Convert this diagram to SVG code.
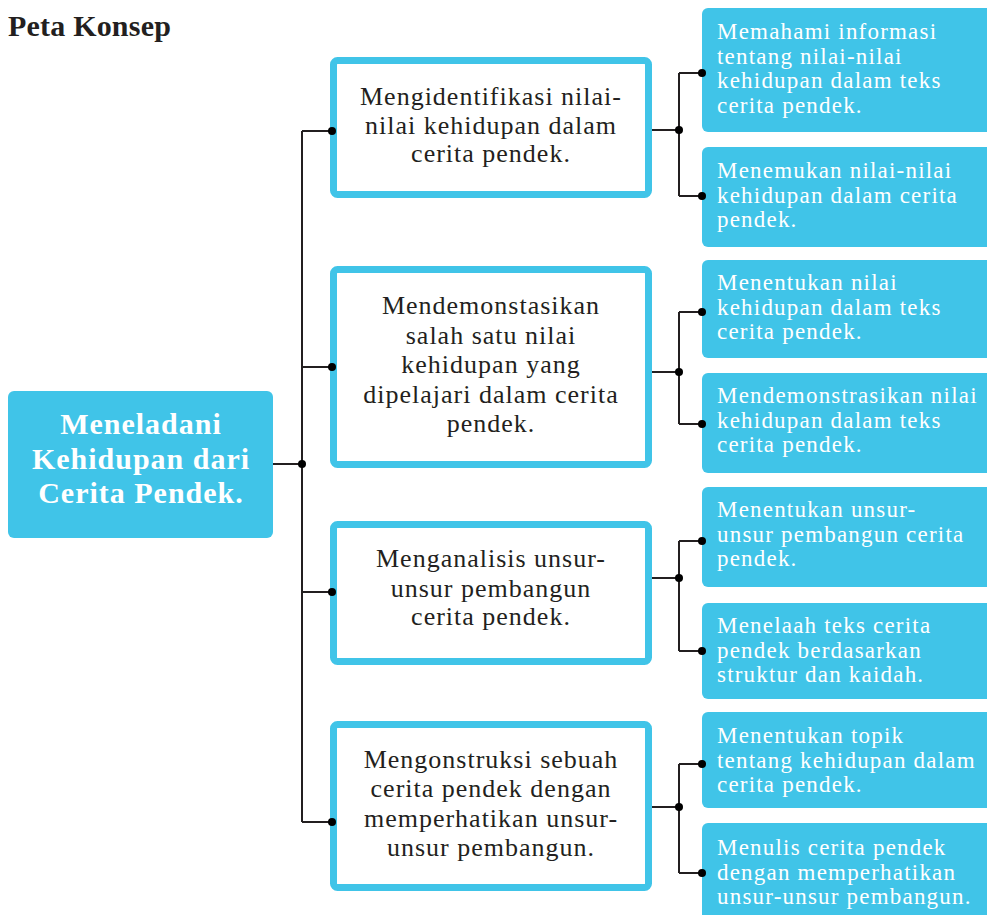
<svg xmlns="http://www.w3.org/2000/svg" width="987" height="915" viewBox="0 0 987 915">
<style>
.title{font-family:"Liberation Serif","Times New Roman",serif;font-weight:bold;font-size:30px;fill:#231F20;letter-spacing:0.2px}
.main{fill:#40C4E8}
.maintxt{font-family:"Liberation Serif","Times New Roman",serif;font-weight:bold;font-size:30px;fill:#FFFFFF;letter-spacing:1px;text-anchor:middle}
.mid{fill:#FFFFFF;stroke:#40C4E8;stroke-width:7}
.midtxt{font-family:"Liberation Serif","Times New Roman",serif;font-size:26px;fill:#231F20;letter-spacing:1px;text-anchor:middle}
.leaf{fill:#40C4E8}
.leaftxt{font-family:"Liberation Serif","Times New Roman",serif;font-size:23px;fill:#FFFFFF;letter-spacing:1.2px}
.ln{fill:none;stroke:#231F20;stroke-width:2}
.dot{fill:#000000}
</style>
<rect width="987" height="915" fill="#FFFFFF"/>
<text class="title" x="8" y="36">Peta Konsep</text>

<g id="root">
<rect class="main" x="8" y="391" width="265" height="147" rx="6"/>
<text class="maintxt" x="141" y="434">Meneladani</text>
<text class="maintxt" x="141" y="469">Kehidupan dari</text>
<text class="maintxt" x="141" y="503">Cerita Pendek.</text>
</g>

<g id="mid1">
<rect class="mid" x="333.5" y="60.5" width="315" height="134" rx="4"/>
<text class="midtxt" x="491" y="105">Mengidentifikasi nilai-</text>
<text class="midtxt" x="491" y="133.5">nilai kehidupan dalam</text>
<text class="midtxt" x="491" y="162">cerita pendek.</text>
</g>
<g id="mid2">
<rect class="mid" x="333.5" y="269.5" width="315" height="195" rx="4"/>
<text class="midtxt" x="491" y="314">Mendemonstasikan</text>
<text class="midtxt" x="491" y="343.5">salah satu nilai</text>
<text class="midtxt" x="491" y="373">kehidupan yang</text>
<text class="midtxt" x="491" y="402.5">dipelajari dalam cerita</text>
<text class="midtxt" x="491" y="432">pendek.</text>
</g>
<g id="mid3">
<rect class="mid" x="333.5" y="524.5" width="315" height="137" rx="4"/>
<text class="midtxt" x="491" y="567">Menganalisis unsur-</text>
<text class="midtxt" x="491" y="596.5">unsur pembangun</text>
<text class="midtxt" x="491" y="625">cerita pendek.</text>
</g>
<g id="mid4">
<rect class="mid" x="333.5" y="724.5" width="315" height="163" rx="4"/>
<text class="midtxt" x="491" y="768">Mengonstruksi sebuah</text>
<text class="midtxt" x="491" y="797">cerita pendek dengan</text>
<text class="midtxt" x="491" y="826.5">memperhatikan unsur-</text>
<text class="midtxt" x="491" y="856">unsur pembangun.</text>
</g>

<g id="leaf1">
<rect class="leaf" x="702" y="8" width="300" height="124" rx="6"/>
<text class="leaftxt" x="717" y="39">Memahami informasi</text>
<text class="leaftxt" x="717" y="63.5">tentang nilai-nilai</text>
<text class="leaftxt" x="717" y="88">kehidupan dalam teks</text>
<text class="leaftxt" x="717" y="112.5">cerita pendek.</text>
</g>
<g id="leaf2">
<rect class="leaf" x="702" y="147" width="300" height="100" rx="6"/>
<text class="leaftxt" x="717" y="178">Menemukan nilai-nilai</text>
<text class="leaftxt" x="717" y="202.5">kehidupan dalam cerita</text>
<text class="leaftxt" x="717" y="227">pendek.</text>
</g>
<g id="leaf3">
<rect class="leaf" x="702" y="260" width="300" height="98" rx="6"/>
<text class="leaftxt" x="717" y="290">Menentukan nilai</text>
<text class="leaftxt" x="717" y="314.5">kehidupan dalam teks</text>
<text class="leaftxt" x="717" y="339">cerita pendek.</text>
</g>
<g id="leaf4">
<rect class="leaf" x="702" y="373" width="300" height="100" rx="6"/>
<text class="leaftxt" x="717" y="403">Mendemonstrasikan nilai</text>
<text class="leaftxt" x="717" y="427.5">kehidupan dalam teks</text>
<text class="leaftxt" x="717" y="452">cerita pendek.</text>
</g>
<g id="leaf5">
<rect class="leaf" x="702" y="487" width="300" height="100" rx="6"/>
<text class="leaftxt" x="717" y="517">Menentukan unsur-</text>
<text class="leaftxt" x="717" y="541.5">unsur pembangun cerita</text>
<text class="leaftxt" x="717" y="566">pendek.</text>
</g>
<g id="leaf6">
<rect class="leaf" x="702" y="603" width="300" height="96" rx="6"/>
<text class="leaftxt" x="717" y="633">Menelaah teks cerita</text>
<text class="leaftxt" x="717" y="657.5">pendek berdasarkan</text>
<text class="leaftxt" x="717" y="682">struktur dan kaidah.</text>
</g>
<g id="leaf7">
<rect class="leaf" x="702" y="712" width="300" height="96" rx="6"/>
<text class="leaftxt" x="717" y="743">Menentukan topik</text>
<text class="leaftxt" x="717" y="767.5">tentang kehidupan dalam</text>
<text class="leaftxt" x="717" y="792">cerita pendek.</text>
</g>
<g id="leaf8">
<rect class="leaf" x="702" y="823" width="300" height="110" rx="6"/>
<text class="leaftxt" x="717" y="855">Menulis cerita pendek</text>
<text class="leaftxt" x="717" y="879.5">dengan memperhatikan</text>
<text class="leaftxt" x="717" y="904">unsur-unsur pembangun.</text>
</g>

<g id="connectors">
<path class="ln" d="M273 464H302M302 131V822M302 131H332M302 367H332M302 592H332M302 822H332"/>
<path class="ln" d="M652 130H679M679 73V196M679 73H702M679 196H702"/>
<path class="ln" d="M652 372H679M679 312V424M679 312H702M679 424H702"/>
<path class="ln" d="M652 578H679M679 541V651M679 541H702M679 651H702"/>
<path class="ln" d="M652 807H679M679 764V873M679 764H702M679 873H702"/>
<circle class="dot" cx="302" cy="464" r="4"/>
<circle class="dot" cx="332" cy="131" r="4"/>
<circle class="dot" cx="332" cy="367" r="4"/>
<circle class="dot" cx="332" cy="592" r="4"/>
<circle class="dot" cx="332" cy="822" r="4"/>
<circle class="dot" cx="679" cy="130" r="4"/>
<circle class="dot" cx="702" cy="73" r="4"/>
<circle class="dot" cx="702" cy="196" r="4"/>
<circle class="dot" cx="679" cy="372" r="4"/>
<circle class="dot" cx="702" cy="312" r="4"/>
<circle class="dot" cx="702" cy="424" r="4"/>
<circle class="dot" cx="679" cy="578" r="4"/>
<circle class="dot" cx="702" cy="541" r="4"/>
<circle class="dot" cx="702" cy="651" r="4"/>
<circle class="dot" cx="679" cy="807" r="4"/>
<circle class="dot" cx="702" cy="764" r="4"/>
<circle class="dot" cx="702" cy="873" r="4"/>
</g>
</svg>
